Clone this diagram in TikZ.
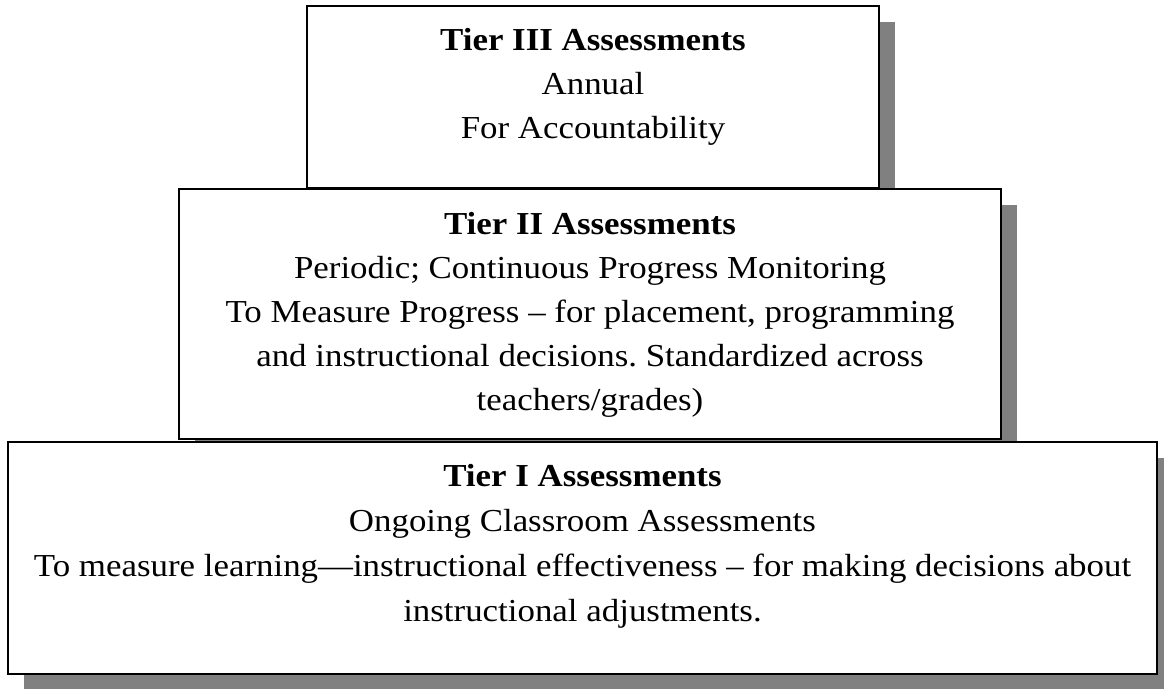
\documentclass[tikz,border=0pt]{standalone}
\usepackage{fontspec}
\setmainfont[FakeStretch=1.09]{Liberation Serif}
\usepackage{tikz}
\usetikzlibrary{shapes,positioning,calc,shadows}
\frenchspacing

\begin{document}
\begin{tikzpicture}[
    x=1pt, y=-1pt,
    tierbox/.style={rectangle, draw, line width=1.6pt, fill=white, inner sep=0pt,
        drop shadow={shadow xshift=16pt, shadow yshift=-16pt, fill=gray, opacity=1}},
    tiertext/.style={align=center, inner sep=0pt, anchor=north,
        font=\fontsize{32}{44}\selectfont}
]
    \useasboundingbox (0,0) rectangle (1164,688);

    % Tier III (top)
    \node[tierbox, minimum width=572pt, minimum height=182pt] (t3) at (593,97) {};
    \node[tiertext] (t3txt) at ([yshift=-23pt]t3.north)
        {\textbf{Tier III Assessments}\\Annual\\For Accountability};

    % Tier II (middle)
    \node[tierbox, minimum width=822pt, minimum height=250pt] (t2) at (590,314) {};
    \node[tiertext] (t2txt) at ([yshift=-24pt]t2.north)
        {\textbf{Tier II Assessments}\\Periodic; Continuous Progress Monitoring\\
         To Measure Progress -- for placement, programming\\
         and instructional decisions. Standardized across\\teachers/grades)};

    % Tier I (bottom)
    \node[tierbox, minimum width=1149pt, minimum height=232pt] (t1) at (582.5,558) {};
    \node[tiertext, font=\fontsize{32}{45}\selectfont] (t1txt) at ([yshift=-23pt]t1.north)
        {\textbf{Tier I Assessments}\\Ongoing Classroom Assessments\\
         To measure learning---instructional effectiveness -- for making decisions about\\
         instructional adjustments.};
\end{tikzpicture}
\end{document}
